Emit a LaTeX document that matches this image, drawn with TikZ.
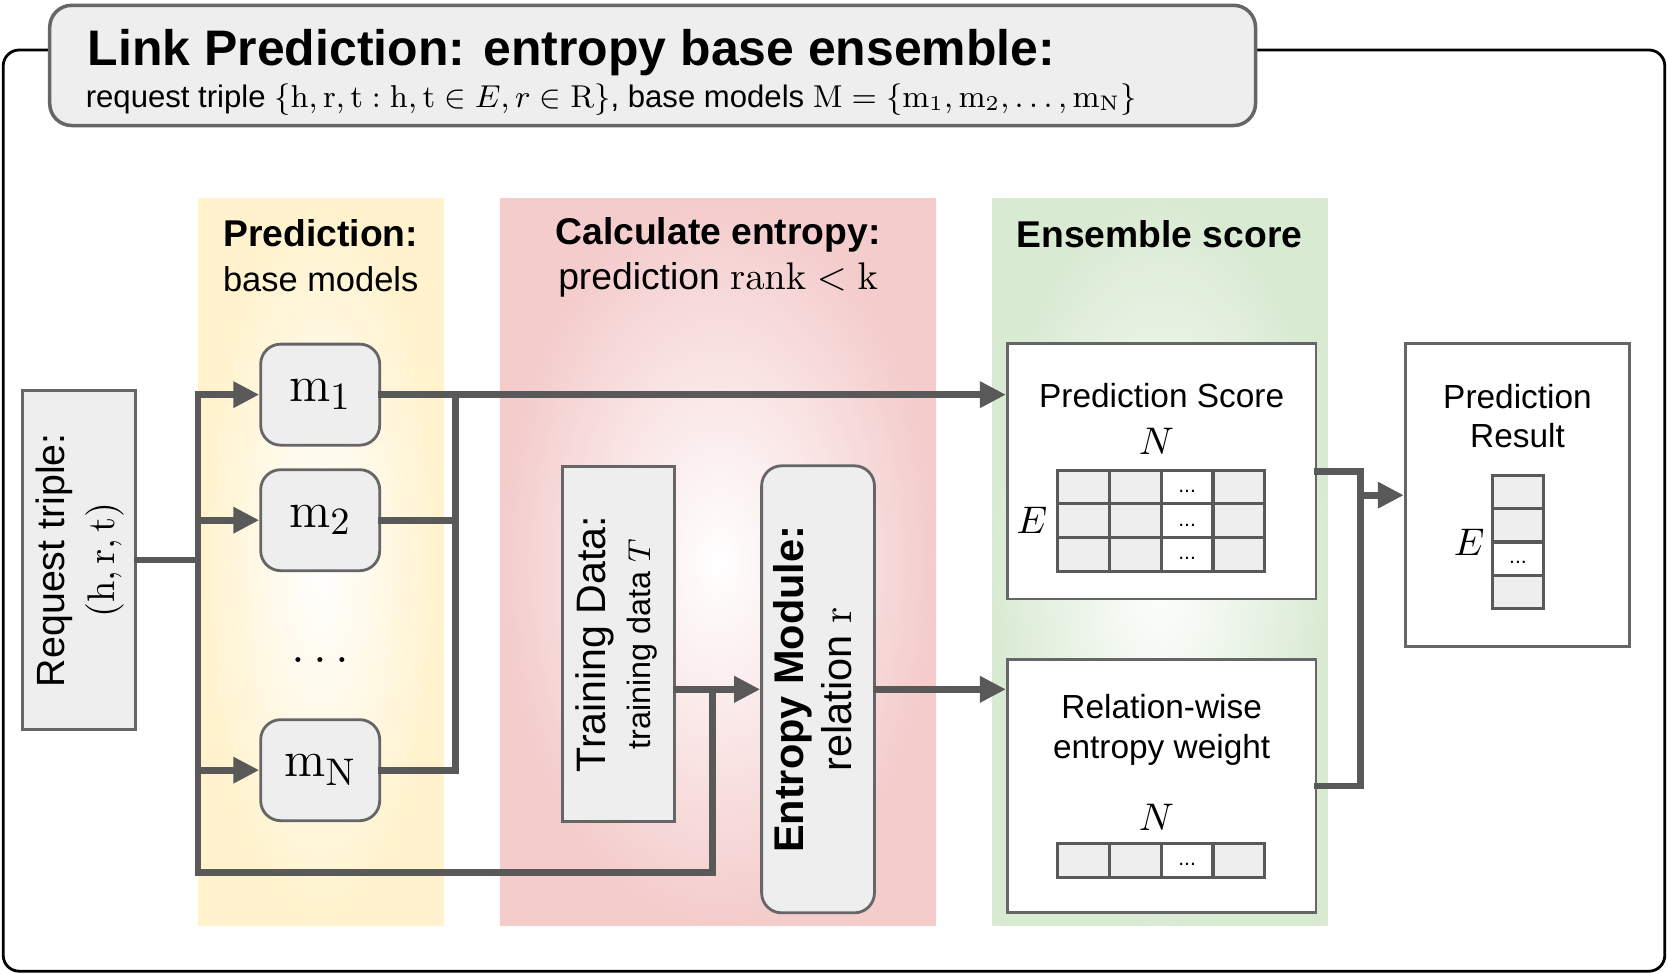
\documentclass[tikz,border=0pt]{standalone}
\usepackage[no-math]{fontspec}
\setmainfont{Liberation Sans}
\usepackage{graphicx}
\usetikzlibrary{arrows.meta}
\usetikzlibrary{positioning}

\definecolor{boxgray}{HTML}{EEEEEE}
\definecolor{rimgray}{HTML}{666666}
\definecolor{wiregray}{HTML}{595959}
\definecolor{predyellow}{HTML}{FFF2CC}
\definecolor{entred}{HTML}{F4CCCC}
\definecolor{ensgreen}{HTML}{D9EAD3}

\newcommand{\vtext}[1]{\rotatebox{90}{\begin{tabular}{@{}c@{}}#1\end{tabular}}}

\tikzset{
  wire/.style={line width=1.9pt, draw=wiregray, line cap=rect},
  flow/.style={wire, -{Triangle[length=0.26cm,width=0.25cm]}},
  plainbox/.style={draw=rimgray, line width=0.8pt, fill=boxgray, inner sep=0pt},
  modelbox/.style={plainbox, rounded corners=0.2cm, minimum width=1.19cm,
    minimum height=1.01cm, font=\fontsize{15}{17}\selectfont},
  scorebox/.style={draw=rimgray, line width=0.8pt, fill=white, inner sep=0pt},
  cell/.style={draw=wiregray, line width=0.9pt, fill=boxgray},
  blank/.style={draw=wiregray, line width=0.9pt, fill=white},
  heading/.style={font=\fontsize{10.6}{12.8}\selectfont, align=center},
  boxtext/.style={font=\fontsize{9.5}{11.2}\selectfont, align=center},
  mathlabel/.style={font=\fontsize{11}{13}\selectfont},
  dotfont/.style={font=\fontsize{6}{7}\selectfont, inner sep=0pt},
}

\begin{document}
\begin{tikzpicture}[x=0.01064cm, y=-0.01064cm]
  \useasboundingbox (0,0) rectangle (1568,915);

  % outer frame and stage backgrounds
  \draw[line width=0.8pt, rounded corners=0.16cm] (3,47) rectangle (1565,913);
  \shade[inner color=white, outer color=predyellow] (186,187) rectangle (417,870);
  \shade[inner color=white, outer color=entred] (470,187) rectangle (880,870);
  \shade[inner color=white, outer color=ensgreen] (933,187) rectangle (1248,870);

  % title
  \node[draw=rimgray, line width=1pt, fill=boxgray, rounded corners=0.22cm,
    minimum width=12.055cm, minimum height=1.202cm] (titlebox) at (613.5,61.5) {};
  \node[anchor=base west, inner sep=0pt, font=\fontsize{14.2}{17}\selectfont\bfseries]
    (titlehead) at (82,62) {Link Prediction: entropy base ensemble:};
  \node[anchor=base west, inner sep=0pt, font=\fontsize{8.85}{11}\selectfont]
    (titlesub) at (80,101) {request triple
    $\{\mathrm{h},\mathrm{r},\mathrm{t} : \mathrm{h},\mathrm{t} \in E, r \in \mathrm{R}\}$,
    base models $\mathrm{M} = \{\mathrm{m}_1, \mathrm{m}_2, \dots, \mathrm{m}_\mathrm{N}\}$};

  % stage headings
  \node[heading] (predhead) at (301.5,240) {\textbf{Prediction:}\\{\fontsize{9.8}{12}\selectfont base models}};
  \node[heading] (enthead) at (675,242) {\textbf{Calculate entropy:}\\prediction $\mathrm{rank} < \mathrm{k}$};
  \node[heading, font=\fontsize{10.6}{12.8}\selectfont\bfseries] (enshead) at (1090,220) {Ensemble score};

  % input and base models
  \node[plainbox, minimum width=1.128cm, minimum height=3.394cm,
    font=\fontsize{11.2}{14.2}\selectfont] (request) at (74.5,526.5)
    {\vtext{Request triple:\\$(\mathrm{h},\mathrm{r},\mathrm{t})$}};
  \node[modelbox] (m1) at (301,371) {$\mathrm{m}_1$};
  \node[modelbox] (m2) at (301,489) {$\mathrm{m}_2$};
  \node[font=\fontsize{15}{17}\selectfont] (mdots) at (301,620) {$\dots$};
  \node[modelbox] (mN) at (301,724) {$\mathrm{m}_\mathrm{N}$};

  % entropy stage
  \node[plainbox, minimum width=1.117cm, minimum height=3.554cm,
    font=\fontsize{11.7}{12.8}\selectfont] (train) at (581.5,605.5)
    {\vtext{Training Data:\\{\fontsize{9.2}{11}\selectfont training data $T$}}};
  \node[plainbox, rounded corners=0.2cm, minimum width=1.128cm, minimum height=4.469cm,
    font=\fontsize{11.8}{13.4}\selectfont] (entropy) at (769,648)
    {\vtext{\textbf{Entropy Module:}\\relation $\mathrm{r}$}};

  % ensemble stage
  \node[scorebox, minimum width=3.086cm, minimum height=2.554cm] (score) at (1092,443) {};
  \node[boxtext] (scoretitle) at (1092,372) {Prediction Score};
  \node[mathlabel] (scoreN) at (1087,415) {$N$};
  \node[mathlabel] (scoreE) at (970,489) {$E$};
  \foreach \r in {0,1,2} {
    \foreach \c in {0,1,3}
      \draw[cell] ({994+48.75*\c},{442+31.67*\r}) rectangle ++(48.75,31.67);
    \draw[blank] (1091.5,{442+31.67*\r}) rectangle ++(48.75,31.67);
    \node[dotfont] at (1115.9,{442+31.67*\r+20}) {...};
  }

  \node[scorebox, minimum width=3.086cm, minimum height=2.532cm] (relation) at (1092,739) {};
  \node[boxtext] (reltitle) at (1092,686) {Relation-wise\\entropy weight};
  \node[mathlabel] (relN) at (1087,768) {$N$};
  \foreach \c in {0,1,3}
    \draw[cell] ({994+48.75*\c},793) rectangle ++(48.75,32);
  \draw[blank] (1091.5,793) rectangle ++(48.75,32);
  \node[dotfont] at (1115.9,813) {...};

  % result
  \node[scorebox, minimum width=2.245cm, minimum height=3.032cm] (result) at (1426.5,465.5) {};
  \node[boxtext] (restitle) at (1426.5,391) {Prediction\\Result};
  \node[mathlabel] (resE) at (1381,510) {$E$};
  \foreach \r in {0,1,3}
    \draw[cell] (1403,{447+31.25*\r}) rectangle ++(48,31.25);
  \draw[blank] (1403,509.5) rectangle ++(48,31.25);
  \node[dotfont] at (1427,529) {...};

  % connectors
  \coordinate (fork) at (186,526.5);
  \coordinate (low) at (186,820);
  \coordinate (bend) at (670,820);
  \coordinate (join) at (428,371);
  \coordinate (merge) at (1279,466);

  \draw[wire] (request) -- (fork);
  \draw[wire] (fork |- m1) -- (low) -- (bend) -- (bend |- entropy);
  \draw[flow] (fork |- m1) -- (m1);
  \draw[flow] (fork |- m2) -- (m2);
  \draw[flow] (fork |- mN) -- (mN);
  \draw[wire] (m2) -- (m2 -| join);
  \draw[wire] (mN) -- (mN -| join) -- (join |- m1);
  \draw[flow] (m1) -- (m1 -| score.west);
  \draw[flow] (train.east |- entropy) -- (entropy);
  \draw[flow] (entropy) -- (entropy -| relation.west);
  \draw[wire] (score) -- (score -| merge) -- (relation -| merge) -- (relation);
  \draw[flow] (merge |- result) -- (result);
\end{tikzpicture}
\end{document}
